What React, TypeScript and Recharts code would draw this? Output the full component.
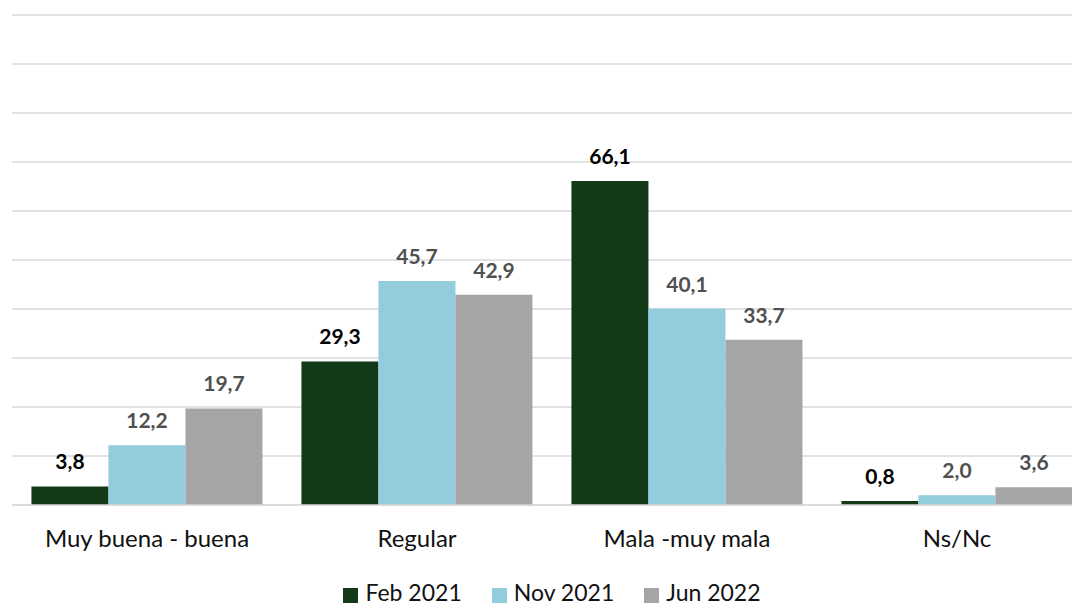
import { BarChart, Bar, XAxis, YAxis, CartesianGrid, Legend, LabelList } from 'recharts';

const categories = ['Muy buena - buena', 'Regular', 'Mala -muy mala', 'Ns/Nc'];
const feb2021 = [3.8, 29.3, 66.1, 0.8];
const nov2021 = [12.2, 45.7, 40.1, 2.0];
const jun2022 = [19.7, 42.9, 33.7, 3.6];
const yTicks = [0, 10, 20, 30, 40, 50, 60, 70, 80, 90, 100];

const SERIES = [
  { key: 'feb', name: 'Feb 2021', color: '#123a19', label: '#000000' },
  { key: 'nov', name: 'Nov 2021', color: '#93cddd', label: '#505050' },
  { key: 'jun', name: 'Jun 2022', color: '#a5a5a5', label: '#505050' },
];

const data = categories.map((c, i) => ({
  name: c,
  feb: feb2021[i],
  nov: nov2021[i],
  jun: jun2022[i],
}));

const fmt = (v: number) => v.toFixed(1).replace('.', ',');

// legend drawn as plain html so the swatches and spacing can follow the original
function LegendRow() {
  return (
    <div style={{ height: 44, display: 'flex', justifyContent: 'center', alignItems: 'flex-start' }}>
      {SERIES.map((s, i) => (
        <div key={s.key} style={{ display: 'flex', alignItems: 'flex-start', marginLeft: i ? 30 : 0 }}>
          <div style={{ width: 15, height: 15, background: s.color, marginTop: 7, marginRight: 7 }} />
          <span style={{ fontSize: 23, lineHeight: '22px', color: '#111' }}>{s.name}</span>
        </div>
      ))}
    </div>
  );
}

export default function App() {
  return (
    <div
      style={{
        position: 'absolute',
        left: 0,
        top: 0,
        width: 1072,
        height: 603,
        overflow: 'hidden',
        background: '#fff',
        fontFamily: 'Lato, "Open Sans", sans-serif',
      }}
    >
      <BarChart
        width={1100}
        height={625}
        data={data}
        margin={{ top: 15, right: 8, bottom: 0, left: 12 }}
        barCategoryGap="7.2%"
        barGap={0}
      >
        <CartesianGrid vertical={false} stroke="#d9d9d9" strokeWidth={1.5} />
        <XAxis
          dataKey="name"
          height={76}
          tickLine={false}
          tickSize={0}
          tickMargin={25}
          axisLine={{ stroke: '#d9d9d9', strokeWidth: 1.5 }}
          tick={{ fontSize: 24, fill: '#111' }}
          interval={0}
        />
        <YAxis hide domain={[0, 100]} ticks={yTicks} />
        <Legend verticalAlign="bottom" content={() => <LegendRow />} />
        {SERIES.map((s) => (
          <Bar key={s.key} dataKey={s.key} name={s.name} fill={s.color} isAnimationActive={false}>
            <LabelList
              dataKey={s.key}
              position="top"
              offset={17}
              formatter={(v: number) => fmt(v)}
              style={{ fontSize: 21, fontWeight: 700, fill: s.label }}
            />
          </Bar>
        ))}
      </BarChart>
    </div>
  );
}
